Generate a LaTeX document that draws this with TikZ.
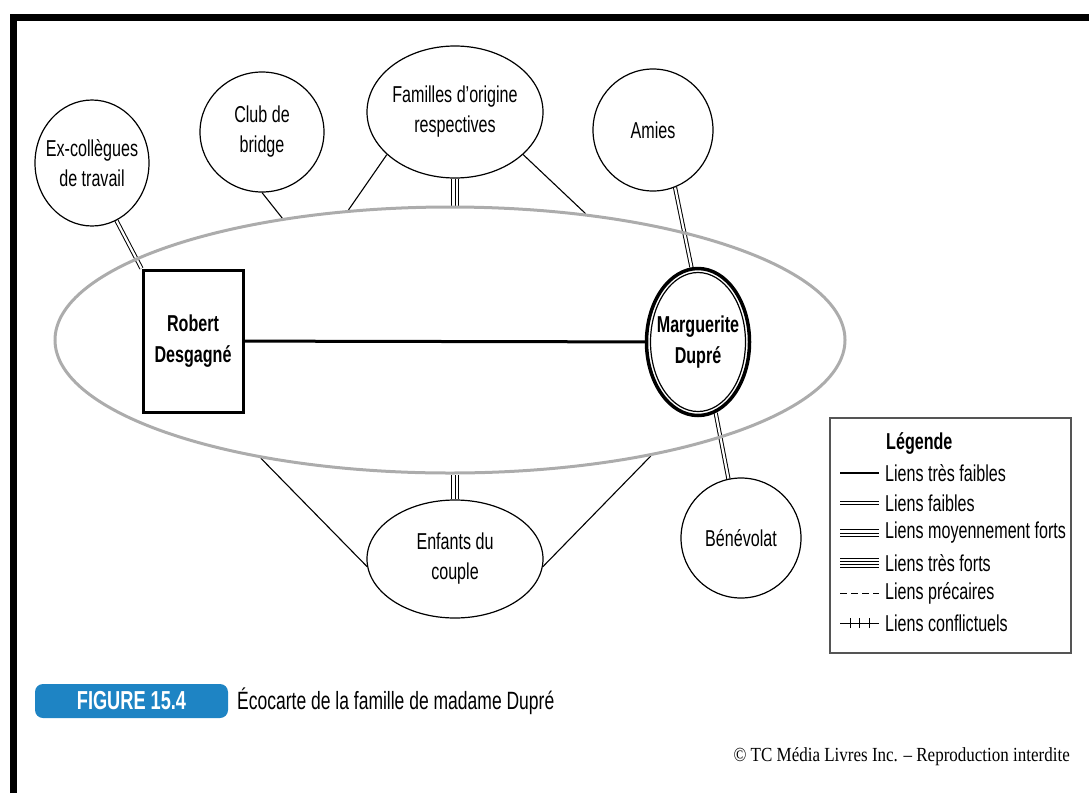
\documentclass[tikz,border=0pt]{standalone}
\usepackage{fontspec}
\setmainfont[FakeStretch=0.7]{Liberation Sans}
\newfontfamily\copyfont[FakeStretch=0.85]{Liberation Serif}
\usetikzlibrary{shapes.geometric,decorations.markings,backgrounds}

\definecolor{ringgray}{RGB}{172,172,172}
\definecolor{figblue}{RGB}{30,132,196}
\definecolor{boxgray}{RGB}{85,85,85}

\tikzset{
  entity/.style={ellipse, draw, line width=1.2pt, inner xsep=-15pt, inner ysep=-15pt,
    align=center, font=\fontsize{23}{30}\selectfont},
  person/.style={draw, line width=3pt, inner sep=0pt, align=center,
    font=\bfseries\fontsize{23}{31}\selectfont},
  legtext/.style={anchor=west, inner sep=0pt, font=\fontsize{23}{28}\selectfont},
  tresfaible/.style={line width=1.1pt},
  faible/.style={line width=4.2pt, postaction={draw=white, line width=2.2pt}},
  moyen/.style={line width=7.4pt, postaction={draw=white, line width=5.4pt},
    postaction={draw=black, line width=1pt}},
  tresfort/.style={line width=10.6pt, postaction={draw=white, line width=8.6pt},
    postaction={draw=black, line width=4.2pt}, postaction={draw=white, line width=2.2pt}},
  precaire/.style={line width=1pt, dash pattern=on 7pt off 4pt},
  conflit/.style={line width=1pt, decoration={markings,
    mark=at position 0.26 with {\draw[line width=1pt] (0,-5pt) -- (0,5pt);},
    mark=at position 0.51 with {\draw[line width=1pt] (0,-5pt) -- (0,5pt);},
    mark=at position 0.76 with {\draw[line width=1pt] (0,-5pt) -- (0,5pt);}},
    postaction=decorate}
}

\begin{document}
\begin{tikzpicture}[x=1pt, y=-1pt]
\useasboundingbox (0,0) rectangle (1089,793);

% frame
\draw[line width=7pt] (13.5,793) -- (13.5,17.5) -- (1089,17.5);

% the couple
\node[ellipse, draw=ringgray, line width=3pt, minimum width=790, minimum height=266] (couple) at (450,340) {};
\node[person, minimum width=100, minimum height=142] (robert) at (193,341) {Robert\\Desgagné};
\node[person, ellipse, line width=3.5pt, inner xsep=-15pt, inner ysep=-15pt,
  minimum width=103, minimum height=147] (marguerite) at (698,342) {Marguerite\\Dupré};
\draw[line width=1.2pt] (marguerite.center) ellipse [x radius=47.5pt, y radius=69.5pt];

% surrounding systems
\node[entity, minimum width=114, minimum height=126] (excol) at (92,163) {Ex-collègues\\de travail};
\node[entity, minimum width=124, minimum height=120] (bridge) at (262,132) {Club de\\bridge};
\node[entity, minimum width=176, minimum height=132] (familles) at (455,112) {Familles d’origine\\respectives};
\node[entity, minimum width=120, minimum height=122] (amies) at (653,130) {Amies};
\node[entity, minimum width=176, minimum height=118] (enfants) at (455,559) {Enfants du\\couple};
\node[entity, minimum width=120, minimum height=120] (benevolat) at (741,538) {Bénévolat};

% links
\begin{pgfonlayer}{background}
\draw[line width=3pt] (robert) -- (marguerite);
\draw[faible] (excol.-67) -- (robert.north west);
\draw[tresfaible] (bridge.south) -- (couple.144);
\draw[tresfaible] (familles.212) -- (couple.128);
\draw[moyen] (familles.south) -- (familles.south |- couple.north);
\draw[tresfaible] (familles.-32) -- (couple.43);
\draw[faible] (amies.-69) -- (marguerite.95);
\draw[faible] (marguerite.-76) -- (benevolat.102);
\draw[tresfaible] (enfants.185) -- (couple.212);
\draw[moyen] (enfants.north) -- (enfants.north |- couple.south);
\draw[tresfaible] (enfants.355) -- (couple.-30);
\end{pgfonlayer}

% legend
\node[draw=boxgray, line width=1.5pt, minimum width=241, minimum height=235] (legende) at (950.5,535.5) {};
\node[legtext, font=\bfseries\fontsize{23}{28}\selectfont] (legtitle) at (886,443) {Légende};
\foreach \s/\t [count=\i] in {tresfaible/Liens très faibles, faible/Liens faibles,
    moyen/Liens moyennement forts, tresfort/Liens très forts,
    precaire/Liens précaires, conflit/Liens conflictuels}{
  \node[legtext] (leg-\i) at (885,443+30*\i) {\t};
  \draw[\s] ([xshift=-45pt]leg-\i.west) -- ([xshift=-6pt]leg-\i.west);
}

% caption
\node[fill=figblue, rounded corners=8pt, minimum width=193, minimum height=34, inner sep=0pt,
  text=white, font=\bfseries\fontsize{26}{30}\selectfont] (figlabel) at (131.5,701) {FIGURE 15.4};
\node[anchor=west, inner sep=0pt, font=\fontsize{25}{30}\selectfont] (caption) at (237,701)
  {Écocarte de la famille de madame Dupré};
\node[anchor=east, inner sep=0pt, font=\copyfont\fontsize{20}{24}\selectfont] (copyright) at (1070,757)
  {© TC Média Livres Inc. – Reproduction interdite};
\end{tikzpicture}
\end{document}
